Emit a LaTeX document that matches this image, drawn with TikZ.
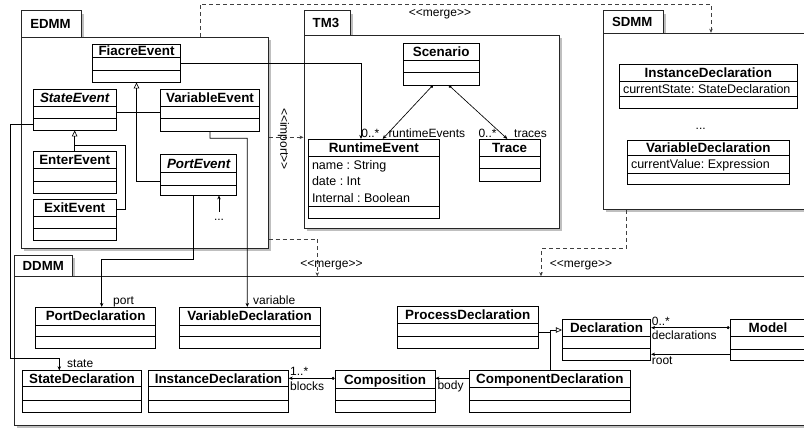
\documentclass[tikz,border=0pt]{standalone}
\usepackage{fontspec}
\setmainfont{Liberation Sans}
\usetikzlibrary{arrows.meta,shadows,fit,calc}
\frenchspacing
\newcommand{\stereo}[1]{<{}<#1>{}>}
\newcommand{\umlcls}[9]{%
  \path (#2,#3) coordinate (#1-nw) (#4,#5) coordinate (#1-se);
  \node[clsbox, fit=(#1-nw)(#1-se)] (#1) {};
  \draw[clsline] (#2,#6) -- (#4,#6) (#2,#7) -- (#4,#7);
  \node[clstitle] (#1-t) at ({(#2+#4)/2},{(#3+#6)/2}) {#8};
  \if\relax\detokenize{#9}\relax\else
  \node[clsattr, anchor=north west] (#1-a) at ({#2+2.5},{#6+2.5}) {#9};
  \fi
}
\newcommand{\umlpkg}[8]{%
  \path (#2,#3) coordinate (#1-tnw) (#4,#5) coordinate (#1-tse);
  \node[pkgbox, fit=(#1-tnw)(#1-tse)] (#1-tab) {};
  \path (#2,#5) coordinate (#1-nw) (#6,#7) coordinate (#1-se);
  \node[pkgbox, fit=(#1-nw)(#1-se)] (#1) {};
  \node[pkgtitle, anchor=west] (#1-l) at ({#2+8.5},{(#3+#5)/2}) {#8};
}
\begin{document}
\frenchspacing
\begin{tikzpicture}[x=1pt,y=-1pt,
 clsbox/.style={draw=black, fill=white, line width=0.8pt, inner sep=0pt},
 clsline/.style={line width=0.8pt},
 clstitle/.style={font=\fontsize{13.4}{15}\selectfont\bfseries, inner sep=0pt, text height=9.6pt, text depth=0pt},
 clsattr/.style={font=\fontsize{12.5}{16.5}\selectfont, inner sep=1pt, align=left},
 pkgbox/.style={draw=black!85, fill=white, line width=1pt, inner sep=0pt, drop shadow={shadow xshift=2.5pt, shadow yshift=-3pt, fill=black!50, opacity=0.5}},
 pkgtitle/.style={font=\fontsize{13.2}{15}\selectfont\bfseries, inner sep=0pt},
 lbl/.style={font=\fontsize{12}{14}\selectfont, inner sep=0pt, text height=8.6pt, text depth=0pt},
 conn/.style={line width=0.65pt},
 nav/.style={conn, -{Stealth[length=4pt,width=3.5pt]}},
 gen/.style={conn, -{Triangle[open,length=6pt,width=5.5pt]}},
 dep/.style={conn, draw=black!75, dash pattern=on 4pt off 3pt, -{Stealth[length=4pt,width=3.5pt]}},
 comp/.style={conn, {Circle[length=3pt]}-{Stealth[length=4pt,width=3.5pt]}},
]
\useasboundingbox (0,0) rectangle (804,432);
\begin{scope}
\clip (0,0) rectangle (804,432);
% packages
\umlpkg{edmm}{21.7}{10.7}{81.7}{37.3}{268}{248}{EDMM}
\umlpkg{tm3}{304}{10.7}{350}{35}{559.3}{228.3}{TM3}
\umlpkg{sdmm}{603.3}{10.7}{663.3}{33.3}{830}{209.3}{SDMM}
\umlpkg{ddmm}{14}{255}{72.7}{276.7}{830}{425}{DDMM}

% package dependencies
\coordinate (ij) at (290,137.3);
\draw[dep] (edmm.east |- ij) -- (tm3.west |- ij);
\node[lbl, rotate=-90] (importl) at (284.7,139) {\stereo{import}};
\coordinate (m1a) at (200,4);
\coordinate (m1b) at (711,4);
\draw[dep] (edmm.north -| m1a) -- (m1a) -- (m1b) -- (sdmm.north -| m1b);
\node[lbl] (merge1) at (440,12) {\stereo{merge}};
\coordinate (m2) at (317.3,239);
\draw[dep] (edmm.east |- m2) -- (m2) -- (ddmm.north -| m2);
\node[lbl] (merge2) at (331.5,263) {\stereo{merge}};
\coordinate (m3a) at (626,248.3);
\coordinate (m3b) at (541,248.3);
\draw[dep] (sdmm.south -| m3a) -- (m3a) -- (m3b) -- (ddmm.north -| m3b);
\node[lbl] (merge3) at (581,263.5) {\stereo{merge}};

% classes
\umlcls{fiacre}{92.3}{44}{180.7}{82}{57.3}{70}{FiacreEvent}{}
\umlcls{stateev}{33.3}{89.3}{116}{130}{106.7}{118.3}{\itshape StateEvent}{}
\umlcls{varev}{160.7}{89.3}{259.3}{131.7}{106.7}{118.3}{VariableEvent}{}
\umlcls{enter}{33.3}{151.7}{116}{193.3}{168.3}{181.7}{EnterEvent}{}
\umlcls{exit}{33.3}{199}{116}{240.7}{216}{228.3}{ExitEvent}{}
\umlcls{portev}{160.7}{154.3}{236.7}{195}{172.3}{185}{\itshape PortEvent}{}
\umlcls{scenario}{403.3}{43.3}{479}{85}{60}{72.3}{Scenario}{}
\umlcls{runtime}{308.3}{139.3}{439.3}{218.3}{156.7}{206.7}{RuntimeEvent}{name : String\\date : Int\\Internal : Boolean}
\umlcls{trace}{479.3}{139.3}{540}{181}{156}{168.3}{Trace}{}
\umlcls{sinst}{619.3}{64.3}{797.3}{108.3}{81}{96.7}{InstanceDeclaration}{currentState: StateDeclaration}
\umlcls{svar}{627.3}{140}{789.3}{184.3}{155.7}{173.3}{VariableDeclaration}{currentValue: Expression}
\umlcls{portdecl}{35.7}{307.3}{155.7}{348.3}{325}{336.7}{PortDeclaration}{}
\umlcls{vardecl}{179.3}{307.3}{320}{348.3}{325}{336.7}{VariableDeclaration}{}
\umlcls{statedecl}{22.3}{370.7}{141.7}{412.3}{386.7}{400}{StateDeclaration}{}
\umlcls{instdecl}{148.7}{370.7}{288.3}{412.3}{386.7}{400}{InstanceDeclaration}{}
\umlcls{composition}{335}{370.7}{435}{412.3}{388.3}{400.7}{Composition}{}
\umlcls{procdecl}{397.3}{306.7}{538.3}{348.3}{323.3}{336}{ProcessDeclaration}{}
\umlcls{decl}{562.3}{319.3}{650.7}{360.7}{336.7}{348.3}{Declaration}{}
\umlcls{model}{730}{319.3}{806}{360.7}{336.7}{349}{Model}{}
\umlcls{compdecl}{469}{370}{630.7}{412.3}{387.7}{400}{ComponentDeclaration}{}

\node[lbl] (sdots) at (700.7,125) {...};

% EDMM internal connectors
\draw[gen] ([yshift=-6.35pt]portev.west) -| (fiacre.south);
\draw[conn] ([yshift=-2.65pt]stateev.east) -- ([yshift=-1.8pt]varev.west);
\draw[gen] (enter.north) -- (stateev.south);
\coordinate (ej) at (125,145.7);
\coordinate (ek) at (74.65,145.7);
\draw[conn] ([yshift=10.55pt]exit.east) -| (ej) -- (ek);
\node[lbl] (edots) at (219,216) {...};
\draw[nav] (edots.north) -- (portev.south -| edots.north);

% cross-package connectors
\draw[nav] (fiacre.east) -| ([xshift=-12.8pt]runtime.north);
\coordinate (vj) at (247.3,138.3);
\draw[nav] (varev.south) |- (vj) -- ([xshift=-2.35pt]vardecl.north);
\node[lbl, anchor=west] (varl) at (253,300) {variable};
\coordinate (pj) at (101.7,259.3);
\draw[nav] ([xshift=-5.4pt]portev.south) |- (pj) -- ([xshift=6pt]portdecl.north);
\node[lbl, anchor=west] (portl) at (113,300) {port};
\coordinate (sj) at (10,358.3);
\draw[nav] ([yshift=-14.35pt]stateev.west) -| (sj) -| ([xshift=-22.7pt]statedecl.north);
\node[lbl, anchor=west] (statel) at (67,363.3) {state};

% TM3
\draw[comp] ([xshift=-8.45pt]scenario.south) -- ([xshift=8.9pt]runtime.north);
\draw[comp] ([xshift=7.85pt]scenario.south) -- ([xshift=-2.35pt]trace.north);
\node[lbl, anchor=west] (rem) at (361.2,133.3) {0..*};
\node[lbl, anchor=west] (rer) at (388.3,133.3) {runtimeEvents};
\node[lbl, anchor=west] (trm) at (478.3,133.3) {0..*};
\node[lbl, anchor=west] (trr) at (514,133.3) {traces};

% DDMM
\draw[comp] ([yshift=13.2pt]composition.west) -- ([yshift=13.2pt]instdecl.east);
\node[lbl, anchor=west] (blm) at (290,371) {1..*};
\node[lbl, anchor=west] (blr) at (290,386) {blocks};
\draw[nav] ([yshift=12.85pt]compdecl.west) -- ([yshift=13.2pt]composition.east);
\node[lbl, anchor=west] (bodyl) at (437.3,385) {body};
\draw[gen] (compdecl.north) |- ([yshift=10pt]decl.west);
\draw[conn] ([yshift=-4.5pt]procdecl.east) -| (compdecl.north);
\draw[comp] ([yshift=12.3pt]model.west) -- ([yshift=12.3pt]decl.east);
\node[lbl, anchor=west] (dm) at (651.7,321) {0..*};
\node[lbl, anchor=west] (dr) at (651.7,335) {declarations};
\draw[nav] ([yshift=-14.3pt]model.west) -- ([yshift=-14.3pt]decl.east);
\node[lbl, anchor=west] (rootl) at (651.7,360.5) {root};
\end{scope}
\end{tikzpicture}
\end{document}
